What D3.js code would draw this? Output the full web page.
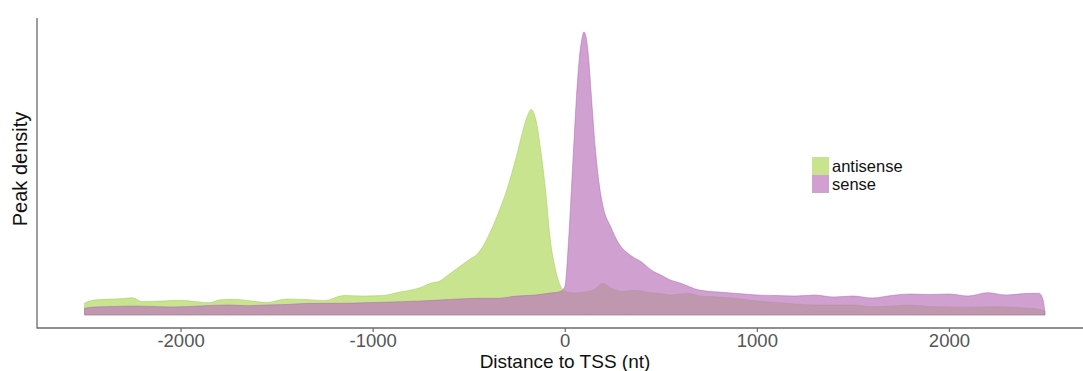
<!DOCTYPE html>
<html>
<head>
<meta charset="utf-8">
<script src="https://cdn.jsdelivr.net/npm/d3@7"></script>
<style>
  html, body { margin: 0; padding: 0; background: #fff; }
  svg { display: block; font-family: "Liberation Sans", Arial, sans-serif; }
</style>
</head>
<body>
<svg id="chart" width="1083" height="371"></svg>
<script>
// Distance to TSS (nt) and relative peak density (arbitrary units)
const antisensePos = [-2500,-2450,-2350,-2300,-2250,-2200,-2100,-2000,-1900,-1850,-1800,-1750,-1700,-1650,-1550,-1450,-1350,-1250,-1150,-1050,-950,-850,-800,-750,-700,-650,-600,-550,-500,-450,-400,-350,-300,-250,-200,-175,-150,-125,-100,-75,-50,-25,0,25,50,100,150,200,250,300,350,400,450,500,550,600,650,700,800,900,1000,1100,1200,1300,1400,1500,1600,1700,1800,1900,2000,2100,2200,2300,2400,2450,2500];
const antisenseVal = [12,15,16,16.5,17.3,13.5,14,14.7,13,12.3,15,15.7,15.5,14.5,12.5,16,15.5,14.5,19.5,19,19.5,23.3,25,27.5,31.7,34,41,48,55,62,78,100,126,160,196,205.5,195,165,125,75,47,30,24,22.5,22,23,25,31.5,26,23.5,24.5,24,22,21.5,20,21,21.5,19,18,16.5,14,12.5,11,10,10,10,8.3,9,10,8.5,8,7.7,8.3,8,7,6.5,4];

const sensePos = [-2500,-2450,-2350,-2250,-2150,-2050,-1950,-1850,-1750,-1650,-1550,-1450,-1350,-1250,-1150,-1050,-950,-850,-750,-650,-550,-450,-350,-250,-150,-75,-25,0,20,40,60,75,90,100,110,125,140,160,180,200,240,280,340,400,450,500,550,600,700,800,900,1000,1100,1200,1300,1400,1500,1600,1700,1800,1900,2000,2100,2200,2300,2400,2470,2490,2500];
const senseVal = [6.7,8,8.5,9,8.5,8,8.5,9.5,10,9.3,10,10.5,11.5,11.7,11.7,12.2,12.7,13.3,14,15,16,16.7,16.7,19,20,22,23.3,28,75,145,215,255,277,283,279,255,215,165,130,108,88,72,60,53,45,40,35,32,25,23,21.5,20,19.5,19,20,18,19,17,19.5,21,20.5,21,19,22.3,20,21.5,21.7,15,2];

const xTicks = [-2000,-1000,0,1000,2000];
const seriesNames = ["antisense","sense"];
const seriesColors = ["rgba(176,216,95,0.7)","rgba(186,119,188,0.7)"];
const seriesStroke = ["rgba(150,195,70,0.7)","rgba(165,95,168,0.75)"];

const svg = d3.select("#chart");
const antisense = antisensePos.map((p,i)=>({x:p,y:antisenseVal[i]}));
const sense = sensePos.map((p,i)=>({x:p,y:senseVal[i]}));
const series = [antisense, sense];

const x = d3.scaleLinear().domain([-2500,2500]).range([84.5,1045]);
const ymax = d3.max([...antisenseVal,...senseVal]);
const y = d3.scaleLinear().domain([0,ymax]).range([315,32]);

const area = d3.area()
  .x(d=>x(d.x)).y0(y(0)).y1(d=>y(d.y))
  .curve(d3.curveMonotoneX);

series.forEach((s,i)=>{
  svg.append("path")
    .datum(s)
    .attr("d", area)
    .attr("fill", seriesColors[i])
    .attr("stroke", seriesStroke[i])
    .attr("stroke-width", 0.6);
});

// axes
const axisColor = "#6a6a6a";
svg.append("line").attr("x1",37).attr("x2",37).attr("y1",18).attr("y2",328.5)
  .attr("stroke",axisColor).attr("stroke-width",1.3);
const xAxis = d3.axisBottom(x).tickValues(xTicks).tickSize(4).tickPadding(2).tickFormat(d3.format("d"));
const gx = svg.append("g").attr("transform","translate(0,328)").call(xAxis);
gx.select(".domain").remove();
gx.append("line").attr("x1",37).attr("x2",1083).attr("y1",0).attr("y2",0)
  .attr("stroke",axisColor).attr("stroke-width",1.3);
gx.selectAll(".tick line").attr("stroke",axisColor).attr("stroke-width",1.2);
gx.selectAll(".tick text").attr("fill","#555").attr("font-size",18.5)
  .attr("font-family","Liberation Sans, Arial, sans-serif").text(d=>d < 0 ? "-" + Math.abs(d) : d);

svg.append("text").attr("x",565).attr("y",368).attr("text-anchor","middle")
  .attr("font-size",19).attr("fill","#111").text("Distance to TSS (nt)");
svg.append("text").attr("transform","translate(26.5,169) rotate(-90)").attr("text-anchor","middle")
  .attr("font-size",20).attr("fill","#111").text("Peak density");

// legend
const lg = svg.append("g").attr("transform","translate(812,157)");
seriesNames.forEach((n,i)=>{
  lg.append("rect").attr("x",0).attr("y",i*18).attr("width",17).attr("height",18)
    .attr("fill",seriesColors[i]);
  lg.append("text").attr("x",20).attr("y",i*18+14.5).attr("font-size",16.5).attr("fill","#111").text(n);
});
</script>
</body>
</html>
